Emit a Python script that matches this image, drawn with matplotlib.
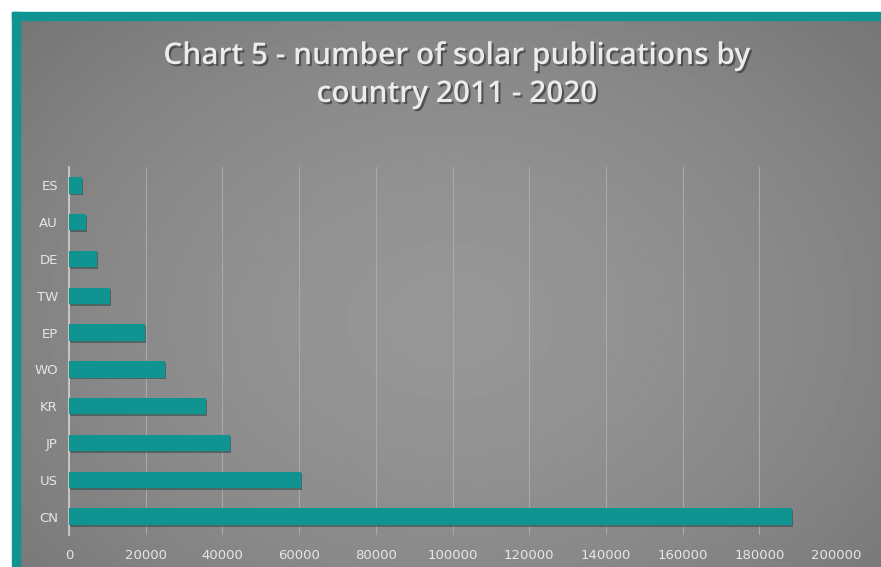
import numpy as np
import matplotlib.pyplot as plt
import matplotlib.patheffects as pe
from matplotlib.patches import Rectangle

countries = ['CN', 'US', 'JP', 'KR', 'WO', 'EP', 'TW', 'DE', 'AU', 'ES']
publications = [188500, 60500, 42000, 35800, 25000, 19800, 10700, 7300, 4400, 3400]
xticks = [0, 20000, 40000, 60000, 80000, 100000, 120000, 140000, 160000, 180000, 200000]

teal = '#0f9491'
W, H = 881, 567

fig = plt.figure(figsize=(W / 100, H / 100), dpi=100)
fig.patch.set_facecolor('white')

# grey panel with a soft radial gradient, framed by teal on top and left
bg = fig.add_axes([20 / W, 0, 1 - 20 / W, 1 - 20 / H], zorder=0)
yy, xx = np.mgrid[0:1:300j, 0:1:500j]
r = np.sqrt(((xx - 0.5) / 0.75) ** 2 + ((yy - 0.55) / 0.9) ** 2)
shade = 0.59 - 0.15 * np.clip(r, 0, 1) ** 1.6
bg.imshow(shade, cmap='gray', vmin=0, vmax=1, aspect='auto', extent=[0, 1, 0, 1])
bg.axis('off')

fig.patches.append(Rectangle((12 / W, 0), 8 / W, 1 - 12 / H, transform=fig.transFigure,
                             color=teal, zorder=1))
fig.patches.append(Rectangle((12 / W, 1 - 20 / H), 1 - 12 / W, 8 / H, transform=fig.transFigure,
                             color=teal, zorder=1))

ax = fig.add_axes([69 / W, 1 - 535 / H, (836 - 69) / W, (535 - 167) / H], zorder=2)
ax.set_facecolor('none')
y = np.arange(len(countries))
bars = ax.barh(y, publications, height=0.45, color=teal, zorder=3)
for b in bars:
    b.set_path_effects([pe.SimplePatchShadow(offset=(0.5, -1.2), shadow_rgbFace='#2a4f4e', alpha=0.6),
                        pe.Normal()])

ax.set_xlim(0, 200000)
ax.set_ylim(-0.5, len(countries) - 0.5)
ax.set_yticks(y)
ax.set_yticklabels(countries)
ax.set_xticks(xticks)
ax.set_xticklabels([str(v) for v in xticks])
ax.tick_params(axis='both', length=0, colors='#e6e6e6', labelsize=9.5)
ax.tick_params(axis='x', pad=10)
ax.tick_params(axis='y', pad=8)
ax.grid(axis='x', color='#a9a9a9', linewidth=0.8, zorder=1)
for s in ['top', 'right', 'bottom']:
    ax.spines[s].set_visible(False)
ax.spines['left'].set_color('#cfcfcf')
ax.spines['left'].set_linewidth(1.2)

fig.text(457 / W, 1 - 75 / H, 'Chart 5 - number of solar publications by\ncountry 2011 - 2020',
         ha='center', va='center', fontsize=21.5, fontweight='semibold', color='#ececec',
         family='Open Sans', linespacing=1.35,
         path_effects=[pe.withSimplePatchShadow(offset=(1.5, -1.5), shadow_rgbFace='#3a3a3a',
                                                alpha=0.7)])

fig.savefig('out.png', dpi=100)
